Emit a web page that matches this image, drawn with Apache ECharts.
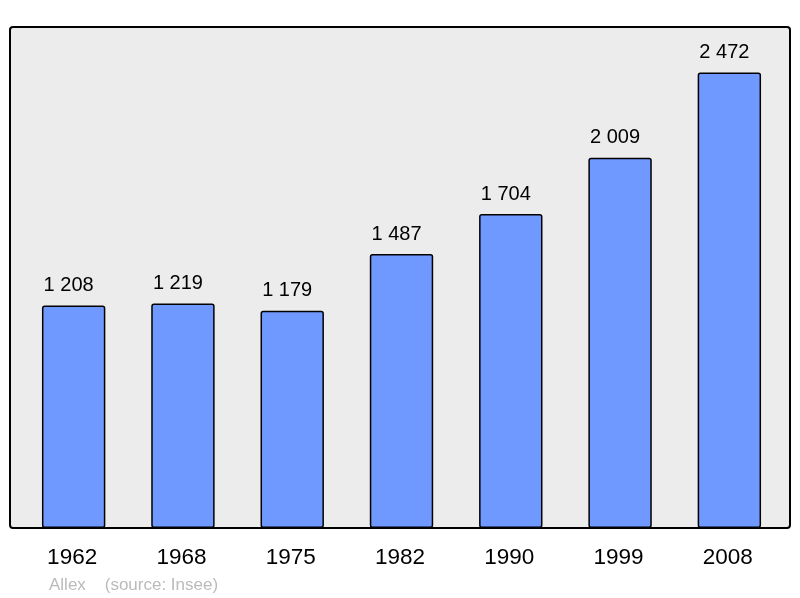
<!DOCTYPE html>
<html><head><meta charset="utf-8">
<script src="https://cdn.jsdelivr.net/npm/echarts@6/dist/echarts.min.js"></script>
<style>html,body{margin:0;padding:0;background:#fff}#c{width:800px;height:598px}</style>
</head><body><div id="c"></div>
<script>
var years = ['1962','1968','1975','1982','1990','1999','2008'];
var population = [1208, 1219, 1179, 1487, 1704, 2009, 2472];
var footer = 'Allex    (source: Insee)';

function fmt(v){ return String(v).replace(/\B(?=(\d{3})+(?!\d))/g, ' '); }

var chart = echarts.init(document.getElementById('c'), null, {renderer:'canvas'});
chart.setOption({
  animation: false,
  backgroundColor: '#ffffff',
  grid: {left: 19, right: 16, top: 27, bottom: 70, containLabel: false},
  graphic: [
    {type:'rect', z: -10, silent:true, shape:{x:10, y:27, width:780, height:501, r:3},
     style:{fill:'#ececec', stroke:'#000', lineWidth:2}},
    {type:'text', left: 49, top: 577, silent:true,
     style:{text: footer, fill:'#bbbbbb', font:'17px "Liberation Sans", Arial, sans-serif'}}
  ],
  xAxis: {
    type:'category', data: years,
    axisLine:{show:false}, axisTick:{show:false},
    axisLabel:{color:'#000', fontSize:22.5, fontFamily:'"Liberation Sans", Arial, sans-serif', margin:18, padding:[0,3,0,0]}
  },
  yAxis: {type:'value', min:0, max:2719, show:false, splitLine:{show:false}},
  series: [{
    type:'bar', data: population, barWidth:'58%',
    itemStyle:{color:'#7099ff', borderColor:'#000', borderWidth:1.5, borderRadius:2},
    label:{show:true, position:'top', distance:10, offset:[-5,0], color:'#000', fontSize:20,
      fontFamily:'"Liberation Sans", Arial, sans-serif',
      formatter:function(p){return fmt(p.value);}}
  }]
});
</script></body></html>
